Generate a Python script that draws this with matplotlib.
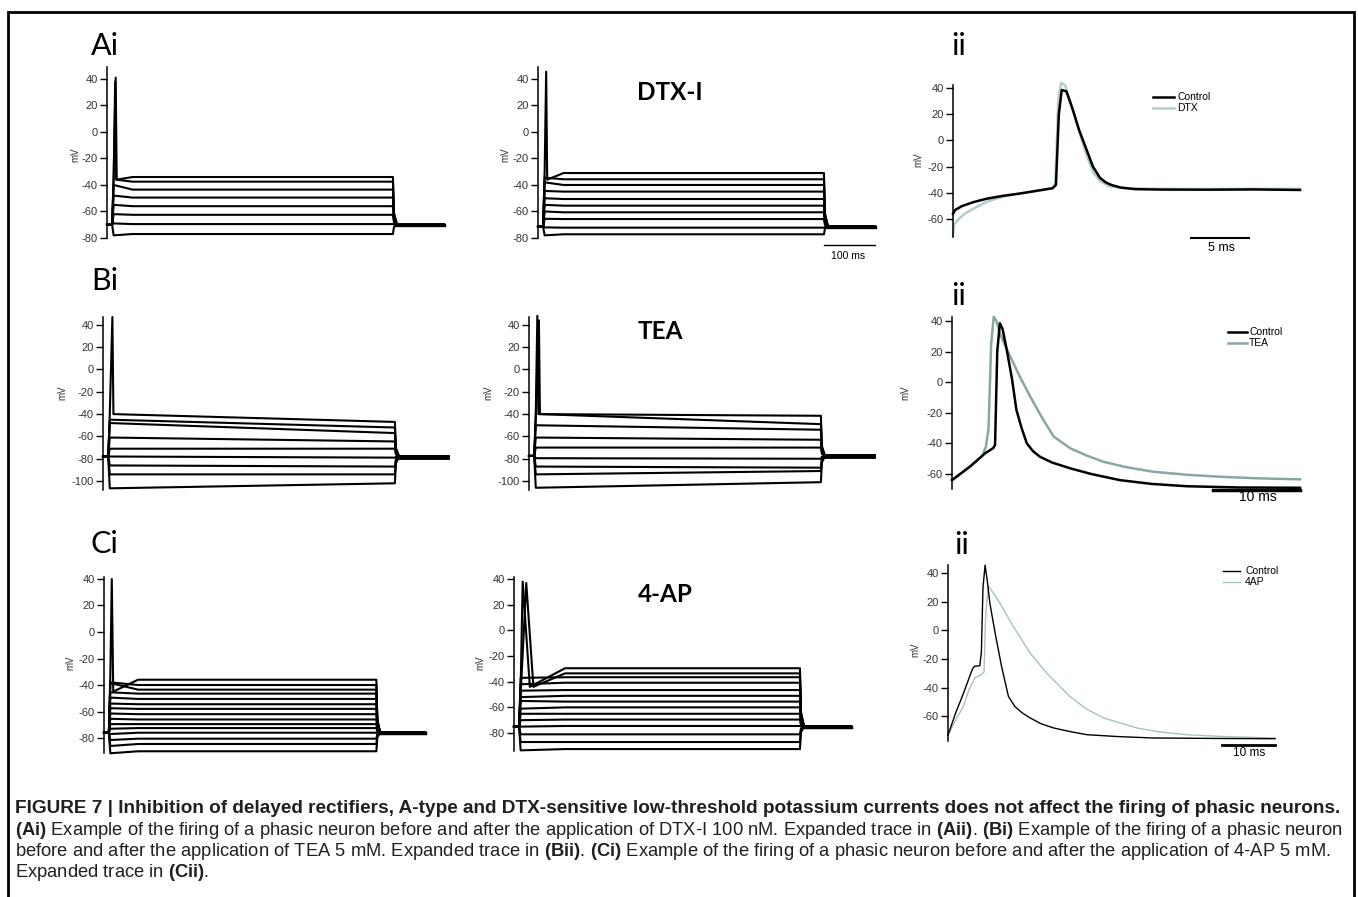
import matplotlib
matplotlib.use('Agg')
import matplotlib.pyplot as plt
from matplotlib.lines import Line2D
from matplotlib.patches import Rectangle

W, H = 1358, 897

plt.rcParams['font.family'] = ['Liberation Sans', 'DejaVu Sans']
plt.rcParams['axes.unicode_minus'] = False
plt.rcParams['mathtext.fontset'] = 'custom'
plt.rcParams['mathtext.rm'] = 'Liberation Sans'
plt.rcParams['mathtext.bf'] = 'Liberation Sans:bold'

# step protocol timing (ms)
T_ON, T_OFF, T_END = 10, 560, 660

# ---- Ai: control steps
AL_BASE = -70
AL_EARLY = [-33, -37, -40, -48, -55, -62, -69, -78]
AL_LATE = [-34, -37.5, -43.5, -49.5, -56, -62.5, -69.5, -77]
AL_SPK_T = [17, 16]
AL_SPK_V = [41, 38]

# ---- Ai: DTX-I steps
AM_BASE = -71.5
AM_EARLY = [-30, -34.5, -38, -44.5, -50, -55, -60, -65.5, -72, -78]
AM_LATE = [-31, -35.7, -40, -45, -50.6, -55.6, -60.6, -65.7, -72.2, -77.2]
AM_SPK_T = [16]
AM_SPK_V = [45.5]

# ---- Bi: control steps
BL_BASE = -78
BL_EARLY = [-40, -45, -48, -61, -71, -78, -86, -94, -106.5]
BL_LATE = [-47, -52, -57, -64.5, -71, -79, -87, -94, -102]
BL_SPK_T = [18]
BL_SPK_V = [47]

# ---- Bi: TEA steps
BM_BASE = -77.5
BM_EARLY = [-39, -44, -50, -61, -70, -79.5, -87, -94, -106]
BM_LATE = [-41.5, -49, -54, -63, -70, -80, -88, -91, -101]
BM_SPK_T = [16, 19]
BM_SPK_V = [48, 44]

# ---- Ci: control steps
CL_BASE = -76
CL_EARLY = [-33, -38, -38.5, -45.5, -49.5, -54, -57.5, -61.5, -65.5, -69.5, -73, -77, -81.5, -86, -91.5]
CL_LATE = [-36, -40, -43.5, -46.5, -50.5, -54.5, -58, -62, -66, -69.5, -72.5, -76, -80.5, -84.5, -90]
CL_SPK_T = [16]
CL_SPK_V = [40]

# ---- Ci: 4-AP steps
CM_BASE = -75
CM_EARLY = [-45, -50, -37, -42, -47, -52, -55, -61, -65, -70, -75, -81, -87, -93.5]
CM_LATE = [-29.5, -33.5, -36.5, -40.8, -46.5, -51, -55.5, -60, -65, -69.5, -74.5, -81, -87, -92.5]
CM_SPK_T = [17, 24]
CM_SPK_V = [38, 37]

# ---- Aii expanded spikes (ms, mV)
AII_T_CTRL = [0, 0.2, 0.8, 1.8, 2.9, 4.3, 5.8, 7.2, 8.6, 8.9, 9.15, 9.4, 9.8, 10.3, 10.9, 11.5, 12.1,
              12.7, 13.2, 13.7, 14.5, 15.8, 18, 22, 26, 30]
AII_V_CTRL = [-56, -53, -50, -47, -44.5, -42.3, -40.5, -38.5, -36.5, -34, 20, 38.5, 37.5, 25, 8, -6, -20,
              -28.5, -32, -34, -36, -37.2, -37.5, -37.6, -37.4, -37.8]
AII_T_DTX = [0, 0.1, 0.5, 1.0, 2.0, 3.0, 4.3, 5.8, 7.2, 8.6, 8.85, 9.1, 9.35, 9.7, 10.2, 10.8, 11.5,
             12.1, 12.7, 13.5, 15, 18, 22, 26, 30]
AII_V_DTX = [-73, -64, -60, -56, -51, -46.5, -43, -40.5, -38.5, -36.5, -33, 30, 44, 42, 28, 10, -10,
             -24, -31, -35, -36.5, -37, -37.2, -37, -37]

# ---- Bii
BII_T_CTRL = [0, 2.1, 3.8, 4.75, 4.95, 5.2, 5.5, 5.8, 6.3, 6.9, 7.4, 8.0, 8.6, 9.3, 10.1, 11.5, 13.6,
              16, 19.3, 23, 27, 33, 40]
BII_V_CTRL = [-64, -55, -46.5, -43, -41, 20, 38.5, 35, 21, 2, -18, -30, -40, -45, -48.7, -52.5, -56.3,
              -60, -64, -66.5, -68, -68.8, -69]
BII_T_TEA = [0, 2.1, 3.5, 3.9, 4.2, 4.5, 4.8, 5.1, 5.5, 6.1, 6.7, 7.8, 9.0, 10.5, 11.7, 13.6, 15.5,
             17.4, 20, 23.1, 27, 30.8, 35, 40]
BII_V_TEA = [-64, -55, -48, -42, -30, 25, 42.8, 40, 32, 24, 16.7, 3.6, -9.5, -24.7, -35.6, -43.2, -48,
             -52, -55.5, -58.5, -60.5, -61.8, -62.8, -63.5]

# ---- Cii
CII_T_CTRL = [0, 1.4, 2.9, 3.9, 4.6, 5.0, 6.0, 6.3, 6.6, 7.0, 7.4, 7.9, 8.9, 10.1, 11.4, 12.6, 14,
              15.5, 17.5, 19.9, 23, 26.2, 32, 38.7, 50, 61.7]
CII_V_CTRL = [-73, -58, -44, -34, -27, -25, -24.6, -15, 30, 45.5, 35, 19, -2, -25, -46, -53, -57.5,
              -61, -65, -68, -70.5, -72.7, -74, -75, -75.3, -75.5]
CII_T_4AP = [0, 1.5, 2.9, 4.0, 5.1, 6.2, 6.8, 7.1, 7.6, 8.2, 9.8, 12.3, 15.5, 18.6, 23, 26, 29.3,
             35.6, 40, 45, 52, 61.7]
CII_V_4AP = [-73, -62, -53, -41, -33, -31, -29, 10, 31, 28, 19, 2.8, -15.8, -29.7, -46, -54.5, -61,
             -68, -70.8, -72.7, -74, -75]

DTX_COLOR = '#b3cccc'
TEA_COLOR = '#8aa6a4'
AP4_COLOR = '#a8c2c0'

fig = plt.figure(figsize=(W / 100, H / 100), dpi=100)


def fx(x):
    return x / W


def fy(y):
    return 1 - y / H


def panel(x0, x1, ytop, ybot, ylim, ticks):
    ax = fig.add_axes([fx(x0), fy(ybot), (x1 - x0) / W, (ybot - ytop) / H])
    for s in ['top', 'right', 'bottom']:
        ax.spines[s].set_visible(False)
    ax.spines['left'].set_linewidth(1.1)
    ax.set_xticks([])
    ax.set_yticks(ticks)
    ax.set_ylim(*ylim)
    ax.tick_params(axis='y', length=5, width=1, labelsize=8, pad=1.5, labelcolor='#333333')
    ax.patch.set_alpha(0)
    return ax


def steps(ax, base, early, late, spk_t, spk_v, trough, settle, fall, tail_lw):
    for i in range(len(early)):
        t = [0, T_ON, T_ON + 3]
        v = [base, base, early[i]]
        if i < len(spk_t):
            t += [spk_t[i], spk_t[i] + fall]
            v += [spk_v[i], trough]
        if T_ON + settle < T_OFF:
            t += [T_ON + settle]
            v += [late[i]]
        t += [T_OFF, T_OFF + 2, T_OFF + 8, T_END]
        v += [late[i], base + 0.25 * (late[i] - base), base, base]
        ax.plot(t, v, color='k', lw=1.5, clip_on=False)
    ax.plot([T_OFF + 8, T_END], [base, base], color='k', lw=tail_lw, clip_on=False)
    ax.set_xlim(0, T_END)


def label_px(x, y, s, size, **kw):
    return fig.text(fx(x), fy(y), s, fontsize=size, **kw)


# ---------------- row A
ax = panel(107, 444, 67, 238, (-80, 49), range(-80, 41, 20))
steps(ax, AL_BASE, AL_EARLY, AL_LATE, AL_SPK_T, AL_SPK_V, -36, 40, 2, 2.4)
ax = panel(538, 875, 67, 238, (-80, 49), range(-80, 41, 20))
steps(ax, AM_BASE, AM_EARLY, AM_LATE, AM_SPK_T, AM_SPK_V, -36, 40, 2, 2.4)
ax.plot([T_END - 100, T_END], [-85.3, -85.3], color='k', lw=1, clip_on=False)
label_px(848, 256, '100 ms', 7.5, ha='center', va='center')

ax = panel(953, 1300, 85, 237, (-73.7, 42.3), range(-60, 41, 20))
ax.plot(AII_T_DTX, AII_V_DTX, color=DTX_COLOR, lw=1.8, clip_on=False)
ax.plot(AII_T_CTRL, AII_V_CTRL, color='k', lw=1.8, clip_on=False)
ax.set_xlim(0, 30)
ax.plot([20.6, 25.6], [-74.5, -74.5], color='k', lw=1.5, clip_on=False)
label_px(1221, 248, '5 ms', 9, ha='center', va='center')

# ---------------- row B
ax = panel(103, 447, 317, 490, (-108, 47), range(-100, 41, 20))
steps(ax, BL_BASE, BL_EARLY, BL_LATE, BL_SPK_T, BL_SPK_V, -40, T_OFF, 2, 3.5)
ax = panel(529, 873, 317, 490, (-108, 47), range(-100, 41, 20))
steps(ax, BM_BASE, BM_EARLY, BM_LATE, BM_SPK_T, BM_SPK_V, -40, T_OFF, 2, 3.5)

ax = panel(952, 1300, 317, 489, (-69.8, 42.6), range(-60, 41, 20))
ax.plot(BII_T_TEA, BII_V_TEA, color=TEA_COLOR, lw=1.8, clip_on=False)
ax.plot(BII_T_CTRL, BII_V_CTRL, color='k', lw=1.8, clip_on=False)
ax.set_xlim(0, 40)
ax.plot([30, 40], [-70.5, -70.5], color='k', lw=2.5, clip_on=False)
label_px(1258, 497, '10 ms', 10, ha='center', va='center')

# ---------------- row C
ax = panel(104, 425, 577, 753, (-91.3, 41.5), range(-80, 41, 20))
steps(ax, CL_BASE, CL_EARLY, CL_LATE, CL_SPK_T, CL_SPK_V, -45, 60, 3, 2.5)
ax = panel(514, 851, 577, 751, (-94, 41.6), range(-80, 41, 20))
steps(ax, CM_BASE, CM_EARLY, CM_LATE, CM_SPK_T, CM_SPK_V, -44, 90, 14, 2.5)

ax = panel(948, 1275, 565, 741, (-77.1, 45.6), range(-60, 41, 20))
ax.plot(CII_T_4AP, CII_V_4AP, color=AP4_COLOR, lw=1.0, clip_on=False)
ax.plot(CII_T_CTRL, CII_V_CTRL, color='k', lw=1.0, clip_on=False)
ax.set_xlim(0, 61.7)
ax.plot([51.7, 61.7], [-79.9, -79.9], color='k', lw=2, clip_on=False)
label_px(1249, 753, '10 ms', 8.5, ha='center', va='center')


# ---------------- legends
def legend_px(x0, x1, xt, y, text, color, lw):
    fig.add_artist(Line2D([fx(x0), fx(x1)], [fy(y), fy(y)], color=color, lw=lw))
    label_px(xt, y, text, 7.5, ha='left', va='center')


legend_px(1153, 1174, 1177, 97, 'Control', 'k', 1.8)
legend_px(1153, 1174, 1177, 108, 'DTX', DTX_COLOR, 1.8)
legend_px(1228, 1247, 1249, 332, 'Control', 'k', 1.8)
legend_px(1228, 1247, 1249, 343, 'TEA', TEA_COLOR, 1.8)
legend_px(1223, 1240, 1245, 571, 'Control', 'k', 1.0)
legend_px(1223, 1240, 1245, 582, '4AP', AP4_COLOR, 1.0)

# ---------------- mV labels
for x, y in [(75, 155), (505, 155), (918, 160), (62, 393), (488, 393), (905, 393),
             (70, 663), (480, 663), (915, 650)]:
    label_px(x, y, 'mV', 7, rotation=90, ha='center', va='center', color='#333333')

# ---------------- panel labels
for x, y, s in [(91, 55, 'Ai'), (951, 55, 'ii'), (91, 290, 'Bi'), (951, 305, 'ii'),
                (91, 553, 'Ci'), (954, 554, 'ii')]:
    label_px(x, y, s, 22, family='Lato', ha='left', va='baseline')

for x, y, s in [(670, 93, 'DTX-I'), (660, 331, 'TEA'), (665, 594, '4-AP')]:
    label_px(x, y, s, 17.5, family='Lato', fontweight='bold', ha='center', va='center')

# ---------------- frame
fig.add_artist(Rectangle((fx(8), -0.05), (1354 - 8) / W, fy(12) + 0.05, fill=False,
                         lw=2, color='k', transform=fig.transFigure, clip_on=False))

# ---------------- caption
renderer = fig.canvas.get_renderer()
CAP_COLOR = '#231f20'
line1 = ('FIGURE 7 | Inhibition of delayed rectifiers, A-type and DTX-sensitive low-threshold '
         'potassium currents does not affect the firing of phasic neurons.')
line2 = (r'$\mathbf{(Ai)}$ Example of the firing of a phasic neuron before and after the application '
         r'of DTX-I 100 nM. Expanded trace in $\mathbf{(Aii)}$. $\mathbf{(Bi)}$ Example of the '
         r'firing of a phasic neuron')
line3 = (r'before and after the application of TEA 5 mM. Expanded trace in $\mathbf{(Bii)}$. '
         r'$\mathbf{(Ci)}$ Example of the firing of a phasic neuron before and after the '
         r'application of 4-AP 5 mM.')
line4 = r'Expanded trace in $\mathbf{(Cii)}$.'

t1 = label_px(15, 808, line1, 11, fontweight='bold', ha='left', va='center', color=CAP_COLOR)
w1 = t1.get_window_extent(renderer).width
t1.set_fontsize(11 * 1330 / w1)

t2 = label_px(15, 830, line2, 11, ha='left', va='center', color=CAP_COLOR)
w2 = t2.get_window_extent(renderer).width
fs = 11 * 1330 / w2
t2.set_fontsize(fs)
label_px(15, 851, line3, fs, ha='left', va='center', color=CAP_COLOR)
label_px(15, 872, line4, fs, ha='left', va='center', color=CAP_COLOR)

fig.savefig('out.png', dpi=100)
